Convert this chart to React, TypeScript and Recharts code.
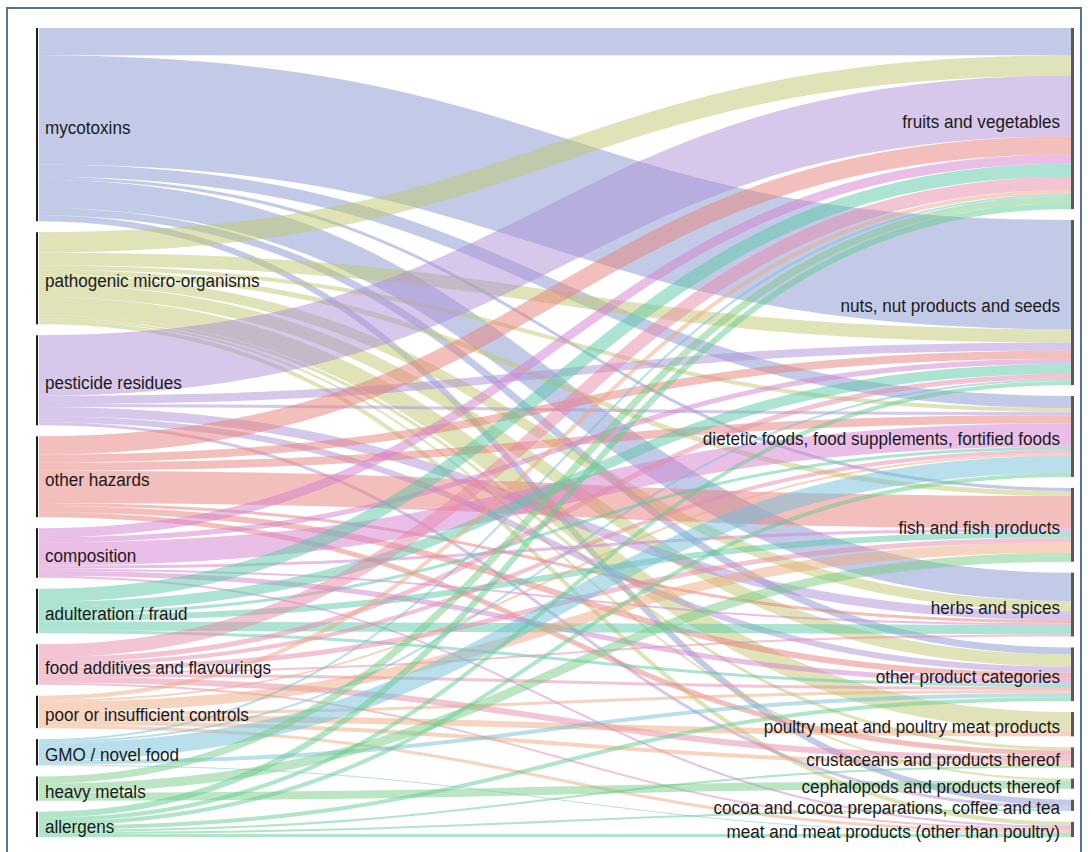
import { Sankey } from 'recharts'

const HAZARDS = [
  'mycotoxins',
  'pathogenic micro-organisms',
  'pesticide residues',
  'other hazards',
  'composition',
  'adulteration / fraud',
  'food additives and flavourings',
  'poor or insufficient controls',
  'GMO / novel food',
  'heavy metals',
  'allergens',
]

const PRODUCTS = [
  'fruits and vegetables',
  'nuts, nut products and seeds',
  'dietetic foods, food supplements, fortified foods',
  'fish and fish products',
  'herbs and spices',
  'other product categories',
  'poultry meat and poultry meat products',
  'crustaceans and products thereof',
  'cephalopods and products thereof',
  'cocoa and cocoa preparations, coffee and tea',
  'meat and meat products (other than poultry)',
]

// one row per hazard, one value per product category (same order as PRODUCTS)
const MYCOTOXINS = [27, 108, 12, 3, 28, 7, 0, 0, 0, 6, 0]
const PATHOGENS = [20, 13, 4, 5, 10, 12, 18, 3, 2, 0, 4]
const PESTICIDES = [60, 8, 3, 0, 9, 6, 0, 0, 0, 3, 0]
const OTHER_HAZARDS = [18, 8, 8, 32, 3, 6, 0, 5, 0, 0, 0]
const COMPOSITION = [9, 5, 23, 3, 2, 5, 0, 0, 0, 0, 2]
const ADULTERATION = [13, 10, 3, 6, 9, 3, 0, 0, 0, 0, 0]
const ADDITIVES = [13, 5, 4, 5, 2, 3, 0, 6, 0, 0, 2]
const POOR_CONTROLS = [4, 0, 2, 10, 0, 3, 6, 4, 0, 0, 3]
const GMO = [2, 2, 17, 0, 0, 4, 0, 0, 0, 0, 1]
const HEAVY_METALS = [7, 0, 0, 9, 0, 0, 0, 0, 8, 0, 0]
const ALLERGENS = [6, 4, 4, 0, 0, 4, 0, 2, 0, 2, 3]

const FLOWS = [
  MYCOTOXINS, PATHOGENS, PESTICIDES, OTHER_HAZARDS, COMPOSITION, ADULTERATION,
  ADDITIVES, POOR_CONTROLS, GMO, HEAVY_METALS, ALLERGENS,
]

const HAZARD_COLORS = [
  '#8796d0', '#c0c870', '#ad90d8', '#e8807a', '#d67fd0', '#5cc8a8',
  '#e88aaa', '#eeaa80', '#72c0d8', '#78cc88', '#64cc90',
]

const nodes = [...HAZARDS, ...PRODUCTS].map(name => ({ name }))
const links = FLOWS.flatMap((row, s) =>
  row
    .map((value, t) => ({ source: s, target: HAZARDS.length + t, value }))
    .filter(l => l.value > 0)
)

const FONT = "'Liberation Sans', Arial, sans-serif"

function FlowLink(props: any) {
  const { sourceX, targetX, sourceY, targetY, sourceControlX, targetControlX, linkWidth, payload } = props
  const idx = HAZARDS.indexOf(payload?.source?.name)
  const color = HAZARD_COLORS[idx] ?? '#999'
  return (
    <path
      d={`M${sourceX},${sourceY} C${sourceControlX},${sourceY} ${targetControlX},${targetY} ${targetX},${targetY}`}
      fill="none"
      stroke={color}
      strokeWidth={linkWidth}
      strokeOpacity={0.5}
    />
  )
}

function FlowNode(props: any) {
  const { x, y, height, payload } = props
  const left = x < 500
  const ty = y + height / 2 + 9
  const tx = left ? x + 9 : x - 11
  return (
    <g>
      <rect x={x} y={y} width={left ? 2 : 3} height={height} fill={left ? '#1e1e1e' : '#5a5a5a'} />
      <text
        transform={`translate(${tx},${ty}) scale(0.9,1)`}
        textAnchor={left ? 'start' : 'end'}
        fontSize={19}
        fontFamily={FONT}
        fill="#1a1a1a"
      >
        {payload.name}
      </text>
    </g>
  )
}

export default function App() {
  return (
    <div style={{ position: 'absolute', left: 0, top: 0, width: 1091, height: 852, background: '#fff', overflow: 'hidden' }}>
      <div
        style={{
          position: 'absolute', left: 6, top: 7, width: 1076, height: 900,
          border: '2px solid #55728f', boxSizing: 'border-box',
        }}
      />
      <div style={{ position: 'absolute', left: 0, top: 0 }}>
        <Sankey
          width={1091}
          height={852}
          data={{ nodes, links }}
          nodeWidth={3}
          nodePadding={11}
          iterations={0}
          linkCurvature={0.5}
          margin={{ top: 28, bottom: 15, left: 36, right: 17 }}
          node={FlowNode}
          link={FlowLink}
        />
      </div>
    </div>
  )
}
